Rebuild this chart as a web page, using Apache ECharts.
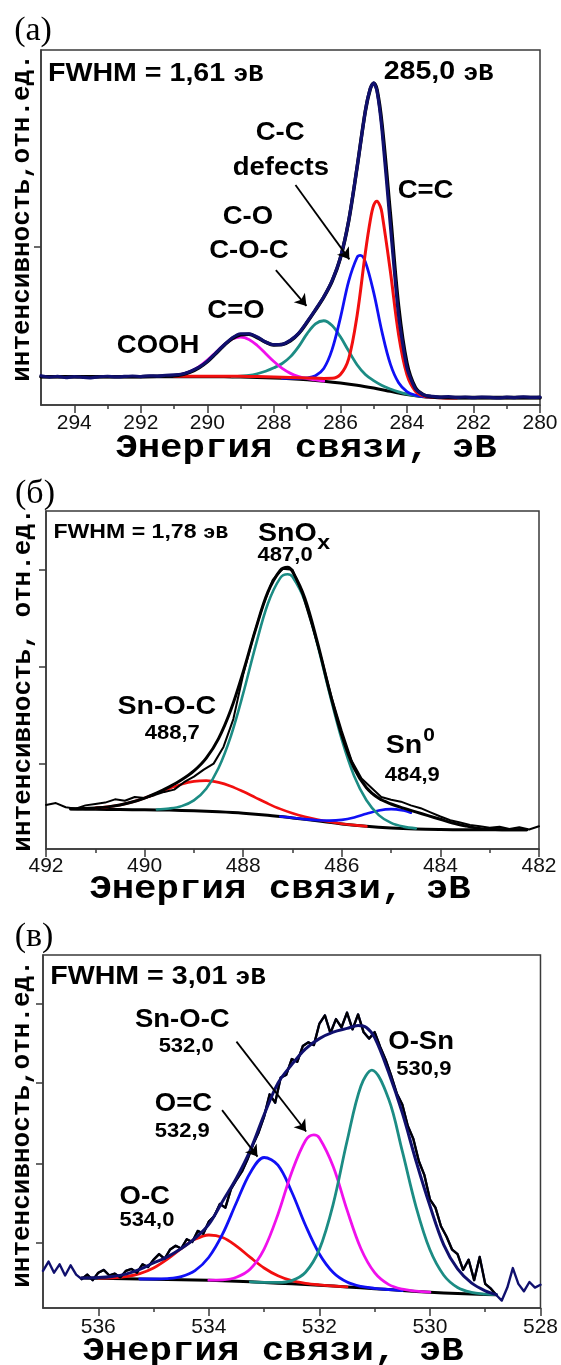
<!DOCTYPE html>
<html>
<head>
<meta charset="utf-8">
<script src="https://cdn.jsdelivr.net/npm/echarts@6/dist/echarts.min.js"></script>
<style>
  html, body { margin: 0; padding: 0; background: #fff; }
  #chart { width: 561px; height: 1365px; }
</style>
</head>
<body>
<div id="chart"></div>
<script>
// ===================== (а) C 1s =====================
// binding energy (eV), intensity (arb. units)
const c1sTicks = [294, 292, 290, 288, 286, 284, 282, 280];
const c1sMinorTicks = [293, 291, 289, 287, 285, 283, 281];
const c1sYTicks = [170.3];

const c1sBackground = [
  [295, 30.5], [294, 30.5], [293, 30.5], [292, 30.5], [291, 30.5], [290, 30.5], [289.5, 30.3], [289, 30.0],
  [288.5, 29.6], [288, 29.0], [287.5, 28.2], [287, 27.1], [286.5, 25.6], [286, 23.7], [285.5, 21.3], [285, 18.2],
  [284.5, 14.7], [284, 11.2], [283.5, 8.8], [283, 7.8], [282.5, 7.5], [282, 7.4], [281, 7.4], [280, 7.4]
];
const c1sCOOH = [
  [291.25, 31.0], [291, 31.7], [290.75, 33.3], [290.5, 36.3], [290.25, 41.2], [290, 48.2], [289.75, 56.5],
  [289.5, 64.7], [289.25, 70.9], [289, 73.0], [288.75, 70.5], [288.5, 64.0], [288.25, 55.4], [288, 46.7],
  [287.75, 39.3], [287.5, 34.0], [287.25, 30.5], [287, 28.3], [286.75, 26.9], [286.5, 25.8]
];
const c1sCOC = [
  [289.25, 30.3], [289, 31.0], [288.75, 31.8], [288.5, 33.6], [288.25, 36.3], [288, 40.0], [287.75, 44.6],
  [287.5, 52.0], [287.25, 63.1], [287, 76.7], [286.75, 87.2], [286.5, 90.6], [286.25, 85.5], [286, 73.3],
  [285.75, 58.0], [285.5, 43.3], [285.25, 32.8], [285, 26.2], [284.75, 21.0], [284.5, 17.2], [284.25, 14.1],
  [284, 11.7], [283.75, 10.0], [283.5, 8.9], [283.25, 8.3]
];
const c1sDefects = [
  [287.75, 28.7], [287.5, 28.7], [287.25, 28.7], [287, 29.1], [286.75, 31.4], [286.5, 39.3], [286.25, 59.6],
  [286, 93.7], [285.75, 133.2], [285.5, 158.6], [285.4, 160.8], [285.25, 153.9], [285, 121.1], [284.75, 78.6],
  [284.5, 44.2], [284.25, 23.9], [284, 14.5], [283.75, 10.6], [283.5, 8.9], [283.25, 8.2]
];
const c1sSp2 = [
  [291, 31.0], [290, 31.0], [289, 30.8], [288.5, 30.6], [288, 30.2], [287.5, 29.7], [287, 29.1], [286.5, 28.6],
  [286.25, 28.7], [286, 32.7], [285.75, 49.9], [285.5, 95.8], [285.25, 163.7], [285.1, 198.8], [285, 214.7],
  [284.9, 219.2], [284.8, 213.3], [284.75, 206.3], [284.5, 144.4], [284.25, 75.6], [284, 32.6], [283.75, 15.0],
  [283.5, 9.7], [283.25, 8.3], [283, 7.8], [282.5, 7.5]
];
const c1sEnvelope = [
  [295, 30.5], [292, 30.5], [291.5, 30.8], [291, 31.5], [290.75, 32.8], [290.5, 35.5], [290.25, 40], [290, 46.5],
  [289.75, 55], [289.5, 64], [289.25, 71.5], [289, 75.5], [288.75, 76], [288.5, 72.5], [288.25, 67.5], [288, 64.5],
  [287.75, 65], [287.5, 69], [287.25, 77], [287, 89], [286.75, 102], [286.5, 116], [286.25, 133], [286, 158],
  [285.75, 198], [285.5, 255], [285.25, 316], [285.1, 340], [285, 346], [284.9, 339], [284.75, 302], [284.5, 206],
  [284.25, 106], [284, 45], [283.75, 19], [283.5, 11], [283.25, 8.8], [283, 8.2], [282, 8], [280, 8]
];
const c1sCounts = [
  [295, 31.5], [294.75, 30], [294.5, 30.8], [294.25, 29.5], [294, 30.6], [293.75, 29.8], [293.5, 29.2],
  [293.25, 30.4], [293, 30.9], [292.75, 30.2], [292.5, 30.7], [292.25, 31.2], [292, 30.6], [291.75, 31.4],
  [291.5, 31.1], [291.25, 32], [291, 32.3], [290.75, 33.4], [290.5, 36.4], [290.25, 40.6], [290, 47.2],
  [289.75, 55.8], [289.5, 64.5], [289.25, 72.3], [289, 76.6], [288.75, 76.4], [288.5, 73.2], [288.25, 67.8],
  [288, 64.9], [287.75, 65.2], [287.5, 69.8], [287.25, 77.3], [287, 89.5], [286.75, 102.6], [286.5, 116.4],
  [286.25, 133.8], [286, 158.6], [285.75, 198.4], [285.5, 255.3], [285.25, 316.2], [285.1, 340.5], [285, 346.4],
  [284.9, 337.6], [284.75, 296], [284.5, 194], [284.25, 96], [284, 40], [283.75, 17.5], [283.5, 10.8],
  [283.25, 9.4], [283, 8.4], [282.75, 8.9], [282.5, 8.1], [282.25, 8.6], [282, 7.9], [281.75, 8.5], [281.5, 8.2],
  [281.25, 7.6], [281, 8.4], [280.75, 8.0], [280.5, 8.8], [280.25, 8.1], [280, 8.5]
];

// ===================== (б) Sn 3d5/2 =====================
const sn3dTicks = [492, 490, 488, 486, 484, 482];
const sn3dMinorTicks = [491, 489, 487, 485, 483];
const sn3dYTicks = [91.4, 196.1, 301.1];

const sn3dBackground = [
  [491.5, 43], [491, 42.8], [490.5, 42.5], [490, 42.3], [489.5, 41.9], [489, 41.2], [488.5, 40.1], [488, 38.6],
  [487.5, 36.4], [487, 33.5], [486.5, 30.3], [486, 27.0], [485.5, 24.4], [485, 22.6], [484.5, 21.5], [484, 21.0],
  [483.5, 20.8], [483, 20.7], [482.25, 20.7]
];
const sn3dSnOx = [
  [489.75, 42.6], [489.5, 43.6], [489.25, 46.2], [489, 52.4], [488.75, 64.9], [488.5, 87.3], [488.25, 121.7],
  [488, 167.6], [487.75, 218.6], [487.5, 264.2], [487.25, 291.9], [487.1, 296], [487, 293.2], [486.75, 267.3],
  [486.5, 221.6], [486.25, 167.8], [486, 117.8], [485.75, 78.7], [485.5, 52.5], [485.25, 36.5], [485, 28.1],
  [484.75, 24.1], [484.5, 22.2]
];
const sn3dSnOC = [
  [491, 44.3], [490.75, 45.4], [490.5, 47.5], [490.25, 50.6], [490, 54.9], [489.75, 59.9], [489.5, 65.2],
  [489.25, 69.9], [489, 72.9], [488.75, 73.7], [488.5, 71.8], [488.25, 67.7], [488, 61.9], [487.75, 55.4],
  [487.5, 49.0], [487.25, 43.2], [487, 38.5], [486.75, 34.8], [486.5, 31.8], [486.25, 29.3], [486, 27.3],
  [485.75, 25.7], [485.5, 24.4]
];
const sn3dSn0 = [
  [487.25, 35.0], [487, 33.6], [486.75, 32.2], [486.5, 31.0], [486.25, 30.6], [486, 31.4], [485.75, 34.0],
  [485.5, 37.9], [485.25, 41.5], [485, 43.0], [484.75, 41.4], [484.6, 39.1]
];
const sn3dEnvelope = [
  [491.5, 43.3], [491.25, 43.6], [491, 44.3], [490.75, 45.4], [490.5, 47.5], [490.25, 50.6], [490, 54.9],
  [489.75, 60.4], [489.5, 66.9], [489.25, 74.5], [489, 84.1], [488.75, 97.9], [488.5, 119], [488.25, 150],
  [488, 190.9], [487.75, 236.4], [487.5, 276.8], [487.25, 300.1], [487.1, 303.5], [487, 299], [486.75, 270.3],
  [486.5, 223.8], [486.25, 170.5], [486, 122.5], [485.75, 87.2], [485.5, 66], [485.25, 54.6], [485, 48.5],
  [484.75, 44], [484.5, 40], [484.25, 36], [484, 32], [483.75, 28], [483.5, 25], [483.25, 22.5], [483, 21.2],
  [482.75, 20.8], [482.25, 20.7]
];
const sn3dCounts = [
  [492, 47.5], [491.8, 49.5], [491.6, 45], [491.4, 43.5], [491.2, 47], [491.0, 48.5], [490.8, 50], [490.6, 53.5],
  [490.4, 52], [490.2, 56], [490.0, 55], [489.8, 58], [489.6, 61.5], [489.4, 64], [489.2, 72], [489.0, 78],
  [488.8, 85.5], [488.6, 92], [488.4, 110], [488.2, 140], [488.0, 188], [487.8, 228], [487.6, 262], [487.4, 290],
  [487.2, 302], [487.0, 301], [486.8, 275], [486.6, 240], [486.4, 203], [486.2, 162], [486.0, 127], [485.8, 95],
  [485.6, 76], [485.4, 66], [485.2, 56], [485.0, 53], [484.8, 51], [484.6, 47], [484.4, 44], [484.2, 39.5],
  [484.0, 35], [483.8, 31], [483.6, 28.5], [483.4, 26], [483.2, 24.5], [483.0, 23], [482.8, 24], [482.6, 21.5],
  [482.4, 23.5], [482.2, 21], [482.0, 24.5]
];

// ===================== (в) O 1s =====================
const o1sTicks = [536, 534, 532, 530, 528];
const o1sMinorTicks = [535, 533, 531, 529];
const o1sYTicks = [69.9, 155.6, 242.7, 328];

const o1sBackground = [
  [536.3, 32.3], [536, 32], [535.5, 31.5], [535, 31], [534.5, 30.5], [534, 29.8], [533.5, 28.8], [533, 27.5],
  [532.5, 26], [532, 24.5], [531.5, 22.7], [531, 20.8], [530.5, 18.8], [530, 17], [529.5, 15.5], [529, 14.5],
  [528.8, 14.3]
];
const o1sOC = [
  [536, 32.2], [535.75, 32.5], [535.5, 33.8], [535.25, 37.0], [535, 43.1], [534.75, 52.6], [534.5, 63.9],
  [534.25, 73.9], [534, 78.6], [533.75, 75.9], [533.5, 66.7], [533.25, 54.5], [533, 43.1], [532.75, 34.7],
  [532.5, 29.4], [532.25, 26.6], [532, 24.9], [531.75, 23.7], [531.5, 22.7]
];
const o1sOdC = [
  [535.25, 31.2], [535, 31.2], [534.75, 31.7], [534.5, 33.8], [534.25, 40.2], [534, 54.6], [533.75, 79.7],
  [533.5, 113.6], [533.25, 145.7], [533, 162.0], [532.75, 153.7], [532.5, 124.9], [532.25, 88.8], [532, 58.2],
  [531.75, 38.3], [531.5, 28.0], [531.25, 23.3], [531, 21.2], [530.75, 19.9], [530.5, 18.8]
];
const o1sSnOC = [
  [534, 30.0], [533.75, 30.3], [533.5, 33.1], [533.25, 42.0], [533, 63.5], [532.75, 100.7], [532.5, 146.2],
  [532.25, 180.3], [532.1, 186.4], [532, 183.1], [531.75, 152.4], [531.5, 105.6], [531.25, 64.1], [531, 38.0],
  [530.75, 25.4], [530.5, 20.2], [530.25, 18.2], [530, 17.0]
];
const o1sOSn = [
  [533.25, 28.1], [533, 27.6], [532.75, 27.5], [532.5, 29.5], [532.25, 38.5], [532, 63.1], [531.75, 111.8],
  [531.5, 179.5], [531.25, 238.7], [531.05, 256], [530.75, 225.4], [530.5, 168.8], [530.25, 108.7], [530, 62.6],
  [529.75, 35.3], [529.5, 22.1], [529.25, 16.9], [529, 15.0], [528.8, 14.3]
];
const o1sEnvelope = [
  [536.3, 32.3], [536, 32.8], [535.75, 34], [535.5, 36.5], [535.25, 41.5], [535, 48.5], [534.75, 55], [534.5, 64],
  [534.25, 75], [534, 90], [533.75, 115], [533.5, 140], [533.25, 170], [533, 208], [532.75, 242], [532.5, 262],
  [532.25, 279], [532, 290], [531.75, 297], [531.5, 301], [531.3, 304], [531.15, 302], [531, 291], [530.75, 254],
  [530.5, 210], [530.25, 158], [530, 110], [529.75, 68], [529.5, 42], [529.25, 27], [529, 18.5], [528.8, 14.5]
];
const o1sCounts = [
  [537.0, 40], [536.9, 50], [536.8, 38], [536.7, 47], [536.6, 35], [536.5, 46], [536.4, 36], [536.3, 31],
  [536.2, 36], [536.1, 30], [536.0, 38], [535.9, 41], [535.8, 35], [535.7, 37], [535.6, 33], [535.5, 40],
  [535.4, 42], [535.3, 38], [535.2, 47], [535.1, 44], [535.0, 52], [534.9, 58], [534.8, 53], [534.7, 63],
  [534.6, 67], [534.5, 64], [534.4, 74], [534.3, 71], [534.2, 83], [534.1, 80], [534.0, 93], [533.9, 99],
  [533.8, 112], [533.7, 108], [533.6, 128], [533.5, 138], [533.4, 147], [533.3, 160], [533.2, 176], [533.1, 189],
  [533.0, 206], [532.9, 230], [532.8, 221], [532.7, 248], [532.6, 251], [532.5, 268], [532.4, 265], [532.3, 282],
  [532.2, 286], [532.1, 283], [532.0, 306], [531.9, 315], [531.8, 296], [531.7, 311], [531.6, 302], [531.5, 318],
  [531.4, 300], [531.3, 316], [531.2, 297], [531.1, 290], [531.0, 297], [530.9, 281], [530.8, 267], [530.7, 250],
  [530.6, 231], [530.5, 219], [530.4, 196], [530.3, 182], [530.2, 158], [530.1, 143], [530.0, 117], [529.9, 108],
  [529.8, 88], [529.7, 77], [529.6, 63], [529.5, 58], [529.4, 41], [529.3, 52], [529.2, 30], [529.1, 55],
  [529.0, 26], [528.9, 21], [528.8, 14], [528.7, 8], [528.6, 22], [528.5, 43], [528.4, 26], [528.3, 18],
  [528.2, 28], [528.1, 22], [528.0, 25]
];
const o1sFitRange = [528.8, 536.3];

// ===================== drawing =====================
const SANS = "'Liberation Sans', Arial, sans-serif";
const MONO = "'Liberation Mono', 'Courier New', monospace";
const SERIF = "'Liberation Serif', 'Times New Roman', serif";
const COLOR = {
  red: '#f20f0f', blue: '#1010f5', magenta: '#f010ec', teal: '#1c8c84',
  navy: '#10106e', black: '#000000', frame: '#3a3a3a', text: '#111111'
};

const panels = [
  { grid: { left: 41, top: 50, width: 499, height: 355 }, xMin: 280, xMax: 295, yMax: 381.7,
    major: c1sTicks, minor: c1sMinorTicks, yTicks: c1sYTicks, labelMargin: 8 },
  { grid: { left: 46, top: 511, width: 493, height: 338 }, xMin: 482, xMax: 492, yMax: 364.2,
    major: sn3dTicks, minor: sn3dMinorTicks, yTicks: sn3dYTicks, labelMargin: 7 },
  { grid: { left: 43, top: 955, width: 498, height: 353 }, xMin: 528, xMax: 537, yMax: 380,
    major: o1sTicks, minor: o1sMinorTicks, yTicks: o1sYTicks, labelMargin: 9 }
];

const grids = [], xAxes = [], yAxes = [];
panels.forEach((p, i) => {
  grids.push(Object.assign({ show: true, borderColor: COLOR.frame, borderWidth: 1.5,
    backgroundColor: 'transparent', containLabel: false }, p.grid));
  xAxes.push({
    type: 'value', gridIndex: i, position: 'bottom', inverse: true, min: p.xMin, max: p.xMax,
    axisLine: { show: true, onZero: false, lineStyle: { color: COLOR.frame, width: 1.5 } },
    axisTick: { show: true, customValues: p.major, length: 8, lineStyle: { color: COLOR.frame, width: 1.5 } },
    axisLabel: { show: true, customValues: p.major, margin: p.labelMargin, fontFamily: SANS, fontSize: 21,
      color: COLOR.text },
    splitLine: { show: false }
  });
  xAxes.push({
    type: 'value', gridIndex: i, position: 'bottom', inverse: true, min: p.xMin, max: p.xMax,
    axisLine: { show: false },
    axisTick: { show: true, customValues: p.minor, length: 4, lineStyle: { color: COLOR.frame, width: 1.5 } },
    axisLabel: { show: false },
    splitLine: { show: false }
  });
  yAxes.push({
    type: 'value', gridIndex: i, position: 'left', min: 0, max: p.yMax,
    axisLine: { show: true, onZero: false, lineStyle: { color: COLOR.frame, width: 1.5 } },
    axisTick: { show: true, customValues: p.yTicks, length: 7, lineStyle: { color: COLOR.frame, width: 1.5 } },
    axisLabel: { show: false },
    splitLine: { show: false }
  });
});

function curve(panel, data, color, width, extra) {
  return Object.assign({
    type: 'line', xAxisIndex: panel * 2, yAxisIndex: panel, data: data,
    showSymbol: false, symbol: 'none', smooth: 0.35, silent: true, animation: false,
    lineStyle: { color: color, width: width, cap: 'round', join: 'round' }
  }, extra || {});
}

function arrows(list) {
  return {
    silent: true, animation: false, symbol: ['none', 'arrow'], symbolSize: 11,
    lineStyle: { color: COLOR.black, width: 1.8, type: 'solid' },
    label: { show: false }, emphasis: { disabled: true },
    data: list.map(a => [{ coord: a[0] }, { coord: a[1] }])
  };
}

const inFit = o1sCounts.filter(d => d[0] >= o1sFitRange[0] && d[0] <= o1sFitRange[1]);

const series = [
  // (а)
  curve(0, c1sBackground, COLOR.black, 3, { markLine: arrows([
    [[287.35, 236.6], [285.73, 156.6]],
    [[287.94, 145], [287.02, 106.5]]
  ]) }),
  curve(0, c1sCOC, COLOR.teal, 2.8),
  curve(0, c1sCOOH, COLOR.magenta, 2.8),
  curve(0, c1sDefects, COLOR.blue, 2.8),
  curve(0, c1sSp2, COLOR.red, 3),
  curve(0, c1sEnvelope, COLOR.black, 3.5),
  curve(0, c1sCounts, COLOR.navy, 3.2, { smooth: 0.2 }),
  // (б)
  curve(1, sn3dBackground, COLOR.black, 3),
  curve(1, sn3dSnOC, COLOR.red, 2.6),
  curve(1, sn3dSn0, COLOR.blue, 2.6),
  curve(1, sn3dSnOx, COLOR.teal, 2.6),
  curve(1, sn3dCounts, COLOR.black, 2, { smooth: false }),
  curve(1, sn3dEnvelope, COLOR.black, 3),
  // (в)
  curve(2, o1sBackground, COLOR.black, 3, { markLine: arrows([
    [[533.50, 286.7], [532.24, 190]],
    [[533.76, 213], [533.12, 163]]
  ]) }),
  curve(2, o1sOC, COLOR.red, 2.8),
  curve(2, o1sOdC, COLOR.blue, 2.8),
  curve(2, o1sSnOC, COLOR.magenta, 2.8),
  curve(2, o1sOSn, COLOR.teal, 2.8),
  curve(2, o1sCounts, COLOR.navy, 2.4, { smooth: false }),
  curve(2, inFit, COLOR.black, 2.2, { smooth: false }),
  curve(2, o1sEnvelope, COLOR.navy, 3)
];

const chart = echarts.init(document.getElementById('chart'), null, { renderer: 'canvas' });
chart.setOption({
  animation: false,
  backgroundColor: '#ffffff',
  grid: grids, xAxis: xAxes, yAxis: yAxes, series: series
});

// annotations, anchored in data coordinates of each panel
const STRETCH = 1.1;
const notes = [
  // panel, [E, I], text, size, align, family
  [0, [294.79, 356.6], 'FWHM = 1,61 ', 26, 'left', 'unit'],
  [0, [284.70, 357.7], '285,0 ', 26, 'left', 'unit'],
  [0, [287.81, 292], 'C-C', 25, 'center'],
  [0, [287.79, 255], 'defects', 25, 'center'],
  [0, [283.44, 230.5], 'C=C', 25, 'center'],
  [0, [288.78, 202.5], 'C-O', 25, 'center'],
  [0, [288.75, 166], 'C-O-C', 25, 'center'],
  [0, [289.14, 101.4], 'C=O', 25, 'center'],
  [0, [291.48, 63.8], 'COOH', 25, 'center'],

  [1, [491.85, 341.6], 'FWHM = 1,78 ', 21, 'left', 'unit'],
  [1, [487.70, 339.8], 'SnO', 26, 'left'],
  [1, [486.50, 329.7], 'x', 21, 'left'],
  [1, [487.15, 316.5], '487,0', 20, 'center'],
  [1, [489.55, 153.4], 'Sn-O-C', 26, 'center'],
  [1, [489.44, 124], '488,7', 20, 'center'],
  [1, [485.11, 111.5], 'Sn', 26, 'left'],
  [1, [484.35, 121.5], '0', 19, 'left'],
  [1, [484.57, 79.2], '484,9', 20, 'center'],

  [2, [536.87, 356.6], 'FWHM = 3,01 ', 26, 'left', 'unit'],
  [2, [534.48, 310], 'Sn-O-C', 25, 'center'],
  [2, [534.41, 281.4], '532,0', 20, 'center'],
  [2, [534.46, 219.7], 'O=C', 25, 'center'],
  [2, [534.48, 190], '532,9', 20, 'center'],
  [2, [535.16, 119.4], 'O-C', 25, 'center'],
  [2, [535.12, 94.3], '534,0', 20, 'center'],
  [2, [530.16, 286], 'O-Sn', 25, 'center'],
  [2, [530.11, 256.3], '530,9', 20, 'center']
];

const graphics = notes.map(n => {
  const pt = chart.convertToPixel({ xAxisIndex: n[0] * 2, yAxisIndex: n[0] }, n[1]);
  const size = n[3];
  const style = { fill: COLOR.black, align: n[4], verticalAlign: 'middle' };
  if (n[5] === 'unit') {
    style.text = '{v|' + n[2] + '}{u|эВ}';
    style.rich = {
      v: { fontFamily: SANS, fontWeight: 'bold', fontSize: size, lineHeight: size, verticalAlign: 'bottom', fill: COLOR.black },
      u: { fontFamily: MONO, fontWeight: 'bold', fontSize: Math.round(size * 0.9), lineHeight: size, verticalAlign: 'bottom', fill: COLOR.black }
    };
  } else {
    style.text = n[2];
    style.font = 'bold ' + size + 'px ' + SANS;
  }
  return { type: 'text', x: pt[0], y: pt[1], scaleX: STRETCH, silent: true, z: 10, style: style };
});

// axis titles and panel letters
const titles = [
  { t: '(а)', x: 33, y: 31 }, { t: '(б)', x: 35, y: 494 }, { t: '(в)', x: 34, y: 937 }
];
titles.forEach(d => graphics.push({ type: 'text', x: d.x, y: d.y, silent: true, z: 10,
  style: { text: d.t, font: '34px ' + SERIF, fill: COLOR.black, align: 'center', verticalAlign: 'middle' } }));

const xTitles = [{ x: 306, y: 448 }, { x: 280, y: 889 }, { x: 273, y: 1351 }];
xTitles.forEach(d => graphics.push({ type: 'text', x: d.x, y: d.y, scaleX: STRETCH, silent: true, z: 10,
  style: { text: 'Энергия связи, эВ', font: 'bold 34px ' + MONO, fill: COLOR.black,
    align: 'center', verticalAlign: 'middle' } }));

const yTitles = [
  { t: 'интенсивность,отн.ед.', x: 22, y: 218 },
  { t: 'интенсивность, отн.ед.', x: 23, y: 680 },
  { t: 'интенсивность,отн.ед.', x: 22, y: 1124 }
];
yTitles.forEach(d => graphics.push({ type: 'text', x: d.x, y: d.y, rotation: Math.PI / 2, silent: true, z: 10,
  style: { text: d.t, font: 'bold 26px ' + MONO, fill: COLOR.black, align: 'center', verticalAlign: 'middle' } }));

chart.setOption({ graphic: graphics });
</script>
</body>
</html>
